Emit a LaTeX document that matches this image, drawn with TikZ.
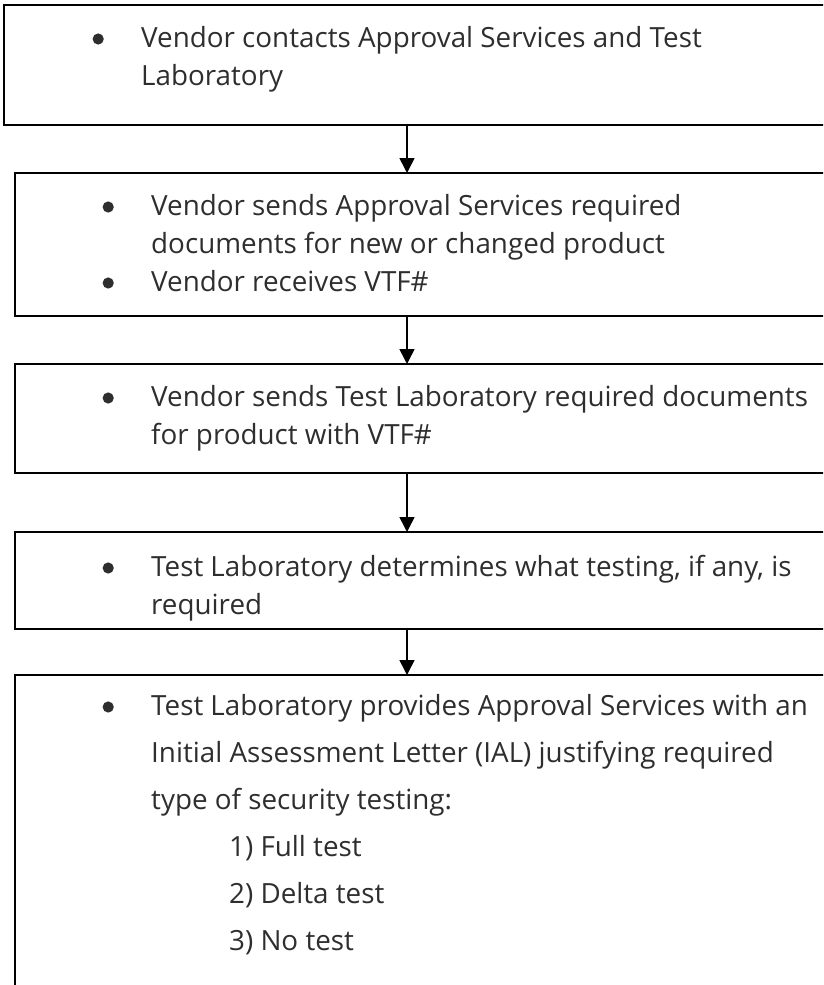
\documentclass[tikz,border=0pt]{standalone}
\usepackage{fontspec}
\setmainfont{Open Sans}
\usetikzlibrary{arrows.meta}
\definecolor{inkgray}{HTML}{2E2E2E}
\tikzset{
  stepbox/.style={draw=black, line width=2pt, anchor=north west,
    minimum width=860pt, inner sep=0pt, outer sep=0pt},
  flow/.style={draw=black, line width=1.6pt,
    -{Triangle[width=15pt,length=15pt]}},
  steptext/.style={anchor=base west, inner sep=0pt, text=inkgray,
    font=\fontsize{27.8}{38}\selectfont},
  widetext/.style={steptext, font=\fontsize{27.8}{47}\selectfont},
}
% bullet column: a round dot centred in a fixed-width cell
\newcommand\bulcell{\makebox[86pt][c]{\tikz[baseline=0pt]\fill[inkgray] (0pt,8pt) circle[radius=5.6pt];}}
\newcommand\subindent{\hspace*{78pt}}

\begin{document}
\begin{tikzpicture}[x=1pt,y=-1pt]
\useasboundingbox (0,0) rectangle (823,985);
\clip (0,0) rectangle (823,985);

% process steps (they run past the right and bottom edges)
\node[stepbox, minimum height=120pt] (b1) at (4,5) {};
\node[stepbox, minimum height=143pt] (b2) at (15,173) {};
\node[stepbox, minimum height=109pt] (b3) at (15,364) {};
\node[stepbox, minimum height=97pt]  (b4) at (15,532) {};
\node[stepbox, minimum height=400pt] (b5) at (15,675) {};

% step texts
\node[steptext] (t1) at (55,47) {\begin{tabular}[t]{@{}l@{}l@{}}
  \bulcell & Vendor contacts Approval Services and Test\\
           & Laboratory
\end{tabular}};
\node[steptext] (t2) at (65,215) {\begin{tabular}[t]{@{}l@{}l@{}}
  \bulcell & Vendor sends Approval Services required\\
           & documents for new or changed product\\
  \bulcell & Vendor receives VTF\#
\end{tabular}};
\node[steptext] (t3) at (65,406) {\begin{tabular}[t]{@{}l@{}l@{}}
  \bulcell & Vendor sends Test Laboratory required documents\\
           & for product with VTF\#
\end{tabular}};
\node[steptext] (t4) at (65,576) {\begin{tabular}[t]{@{}l@{}l@{}}
  \bulcell & Test Laboratory determines what testing, if any, is\\
           & required
\end{tabular}};
\node[widetext] (t5) at (65,715) {\begin{tabular}[t]{@{}l@{}l@{}}
  \bulcell & Test Laboratory provides Approval Services with an\\
           & Initial Assessment Letter (IAL) justifying required\\
           & type of security testing:\\
           & \subindent 1) Full test\\
           & \subindent 2) Delta test\\
           & \subindent 3) No test
\end{tabular}};

% connectors down the left-of-centre axis
\coordinate (ax) at (407,0);
\draw[flow] (b1.south -| ax) -- (b2.north -| ax);
\draw[flow] (b2.south -| ax) -- (b3.north -| ax);
\draw[flow] (b3.south -| ax) -- (b4.north -| ax);
\draw[flow] (b4.south -| ax) -- (b5.north -| ax);
\end{tikzpicture}
\end{document}
